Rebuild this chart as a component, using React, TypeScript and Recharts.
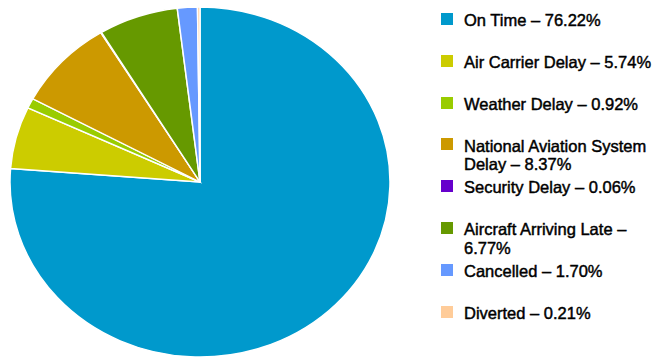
import React from 'react';
import { PieChart, Pie, Cell } from 'recharts';

const categories = [
  'On Time',
  'Air Carrier Delay',
  'Weather Delay',
  'National Aviation System Delay',
  'Security Delay',
  'Aircraft Arriving Late',
  'Cancelled',
  'Diverted',
];
const shares = [76.22, 5.74, 0.92, 8.37, 0.06, 6.77, 1.7, 0.21];
const shareLabels = ['76.22%', '5.74%', '0.92%', '8.37%', '0.06%', '6.77%', '1.70%', '0.21%'];
const colors = ['#0099cc', '#cccc00', '#99cc00', '#cc9900', '#6600cc', '#669900', '#6699ff', '#ffcc99'];

const data = categories.map((name, i) => ({ name, value: shares[i] }));

// pie in reference is slightly squashed vertically (rx 190, ry 175)
const RX = 190;
const RY = 175;

const Legend: React.FC = () => (
  <div style={{ position: 'absolute', left: 441, top: 13, width: 216 }}>
    {categories.map((name, i) => (
      <div key={name} style={{ position: 'absolute', top: i * 41.8, left: 0, width: 216 }}>
        <div style={{ position: 'absolute', left: 0, top: 0, width: 12, height: 12, background: colors[i] }} />
        <div
          style={{
            position: 'absolute',
            left: 23,
            top: -1.75,
            width: 193,
            fontFamily: '"Liberation Sans", Arial, sans-serif',
            fontSize: 16.5,
            lineHeight: '18.5px',
            color: '#000',
            WebkitTextStroke: '0.45px #000',
          }}
        >
          {name} – {shareLabels[i]}
        </div>
      </div>
    ))}
  </div>
);

export default function App() {
  return (
    <div style={{ position: 'absolute', left: 0, top: 0, width: 657, height: 364, background: '#fff', overflow: 'hidden' }}>
      <div style={{ position: 'absolute', left: 10, top: 7, transform: `scaleY(${RY / RX})`, transformOrigin: 'top left' }}>
        <PieChart width={RX * 2} height={RX * 2} margin={{ top: 0, right: 0, bottom: 0, left: 0 }}>
          <Pie
            data={data}
            dataKey="value"
            nameKey="name"
            cx={RX}
            cy={RX}
            outerRadius={RX}
            startAngle={90}
            endAngle={-270}
            stroke="#fff"
            strokeWidth={1.5}
            isAnimationActive={false}
          >
            {data.map((d, i) => (
              <Cell key={d.name} fill={colors[i]} />
            ))}
          </Pie>
        </PieChart>
      </div>
      <Legend />
    </div>
  );
}
